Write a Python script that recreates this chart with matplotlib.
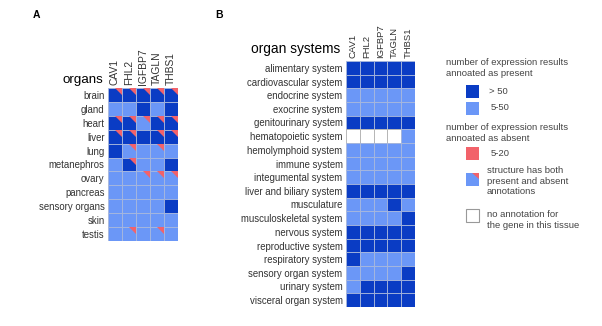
import matplotlib
matplotlib.use('Agg')
import matplotlib.pyplot as plt
from matplotlib.patches import Rectangle, Polygon
import numpy as np

plt.rcParams['font.family'] = ['Liberation Sans', 'DejaVu Sans']

# colours
DARK = '#0a3cc4'
LIGHT = '#6b97f7'
RED = '#f2626a'
GRID = '#a9b8dc'
TXT = '#333333'

genes = ['CAV1', 'FHL2', 'IGFBP7', 'TAGLN', 'THBS1']

# panel A: organs
organs = ['brain', 'gland', 'heart', 'liver', 'lung', 'metanephros', 'ovary',
          'pancreas', 'sensory organs', 'skin', 'testis']
# 2 = >50 present, 1 = 5-50 present, 0 = no annotation
organ_present = [
    [2, 2, 2, 2, 2],
    [1, 1, 2, 1, 2],
    [2, 2, 1, 2, 2],
    [2, 2, 2, 2, 2],
    [2, 1, 1, 1, 1],
    [1, 2, 1, 1, 2],
    [1, 1, 1, 1, 1],
    [1, 1, 1, 1, 1],
    [1, 1, 1, 1, 2],
    [1, 1, 1, 1, 1],
    [1, 1, 1, 1, 1],
]
# 1 = also annotated as absent (5-20)
organ_absent = [
    [1, 1, 1, 1, 1],
    [0, 0, 0, 0, 0],
    [1, 1, 1, 1, 1],
    [1, 1, 0, 1, 1],
    [0, 1, 0, 1, 0],
    [0, 1, 0, 0, 0],
    [0, 0, 1, 1, 1],
    [0, 0, 0, 0, 0],
    [0, 0, 0, 0, 0],
    [0, 0, 0, 0, 0],
    [0, 1, 0, 1, 0],
]

# panel B: organ systems
systems = ['alimentary system', 'cardiovascular system', 'endocrine system',
           'exocrine system', 'genitourinary system', 'hematopoietic system',
           'hemolymphoid system', 'immune system', 'integumental system',
           'liver and biliary system', 'musculature', 'musculoskeletal system',
           'nervous system', 'reproductive system', 'respiratory system',
           'sensory organ system', 'urinary system', 'visceral organ system']
system_present = [
    [2, 2, 2, 2, 2],
    [2, 2, 2, 2, 2],
    [1, 1, 1, 1, 1],
    [1, 1, 1, 1, 1],
    [2, 2, 2, 2, 2],
    [0, 0, 0, 0, 1],
    [1, 1, 1, 1, 1],
    [1, 1, 1, 1, 1],
    [1, 1, 1, 1, 1],
    [2, 2, 2, 2, 2],
    [1, 1, 1, 2, 1],
    [1, 1, 1, 1, 2],
    [2, 2, 2, 2, 2],
    [2, 2, 2, 2, 2],
    [2, 1, 1, 1, 1],
    [1, 1, 1, 1, 2],
    [1, 2, 2, 2, 2],
    [2, 2, 2, 2, 2],
]

FILL = {0: 'white', 1: LIGHT, 2: DARK}
W, H = 602, 326


def heatmap(ax, rows, present, absent=None, colfs=7.0):
    n = len(rows)
    for i in range(n):
        for j in range(len(genes)):
            v = present[i][j]
            ec = '#b0b0b0' if v == 0 else GRID
            ax.add_patch(Rectangle((j, i), 1, 1, facecolor=FILL[v],
                                   edgecolor=ec, lw=0.6, zorder=1))
    if absent is not None:
        s = 0.5
        for i in range(n):
            for j in range(len(genes)):
                if absent[i][j]:
                    ax.add_patch(Polygon([(j + 1 - s, i), (j + 1, i), (j + 1, i + s)],
                                         closed=True, facecolor=RED, lw=0, zorder=2))
    ax.set_xlim(0, len(genes))
    ax.set_ylim(n, 0)
    ax.set_yticks(np.arange(n) + 0.5)
    ax.set_yticklabels(rows, fontsize=6.9, color=TXT)
    ax.set_xticks(np.arange(len(genes)) + 0.5)
    ax.set_xticklabels(genes, rotation=90, fontsize=colfs, color=TXT)
    ax.xaxis.tick_top()
    ax.tick_params(length=0, pad=2.5)
    for sp in ax.spines.values():
        sp.set_visible(False)


fig = plt.figure(figsize=(6.02, 3.26), dpi=100)

axA = fig.add_axes([108 / W, 1 - 241 / H, 70 / W, 153 / H])
heatmap(axA, organs, organ_present, organ_absent, colfs=7.4)

axB = fig.add_axes([346 / W, 1 - 307 / H, 69 / W, 246 / H])
heatmap(axB, systems, system_present, None, colfs=6.8)

fig.text(103 / W, 1 - 82.5 / H, 'organs', ha='right', va='baseline', fontsize=9.6)
fig.text(340 / W, 1 - 53.5 / H, 'organ systems', ha='right', va='baseline', fontsize=9.9)
fig.text(33 / W, 1 - 17.7 / H, 'A', fontsize=7.5, fontweight='bold', va='baseline')
fig.text(215 / W, 1 - 17.7 / H, 'B', fontsize=7.5, fontweight='bold', va='baseline')

# legend
leg = fig.add_axes([0, 0, 1, 1])
leg.set_xlim(0, W)
leg.set_ylim(H, 0)
leg.axis('off')
leg.patch.set_alpha(0)

lx, ls = 466, 12.5
leg.add_patch(Rectangle((lx, 85), ls, ls, facecolor=DARK, lw=0))
leg.add_patch(Rectangle((lx, 102), ls, ls, facecolor=LIGHT, lw=0))
leg.add_patch(Rectangle((lx, 147), ls, ls, facecolor=RED, lw=0))
leg.add_patch(Rectangle((lx, 173), ls, ls, facecolor=LIGHT, lw=0))
leg.add_patch(Polygon([(lx + ls * 0.5, 173), (lx + ls, 173), (lx + ls, 173 + ls * 0.5)],
                      closed=True, facecolor=RED, lw=0))
leg.add_patch(Rectangle((lx, 209), ls, ls, facecolor='white', edgecolor='#999999', lw=0.8))

lfs = 6.8
lc = '#444444'
leg.text(446, 68, 'number of expression results\nannoated as present', fontsize=lfs,
         color=lc, va='center', linespacing=1.25)
leg.text(489, 92, '> 50', fontsize=lfs, color=lc, va='center')
leg.text(491, 108, '5-50', fontsize=lfs, color=lc, va='center')
leg.text(446, 133, 'number of expression results\nannoated as absent', fontsize=lfs,
         color=lc, va='center', linespacing=1.25)
leg.text(491, 153, '5-20', fontsize=lfs, color=lc, va='center')
leg.text(487, 181, 'structure has both\npresent and absent\nannotations', fontsize=lfs,
         color=lc, va='center', linespacing=1.25)
leg.text(487, 220, 'no annotation for\nthe gene in this tissue', fontsize=lfs,
         color=lc, va='center', linespacing=1.25)

fig.savefig('out.png', dpi=100)
